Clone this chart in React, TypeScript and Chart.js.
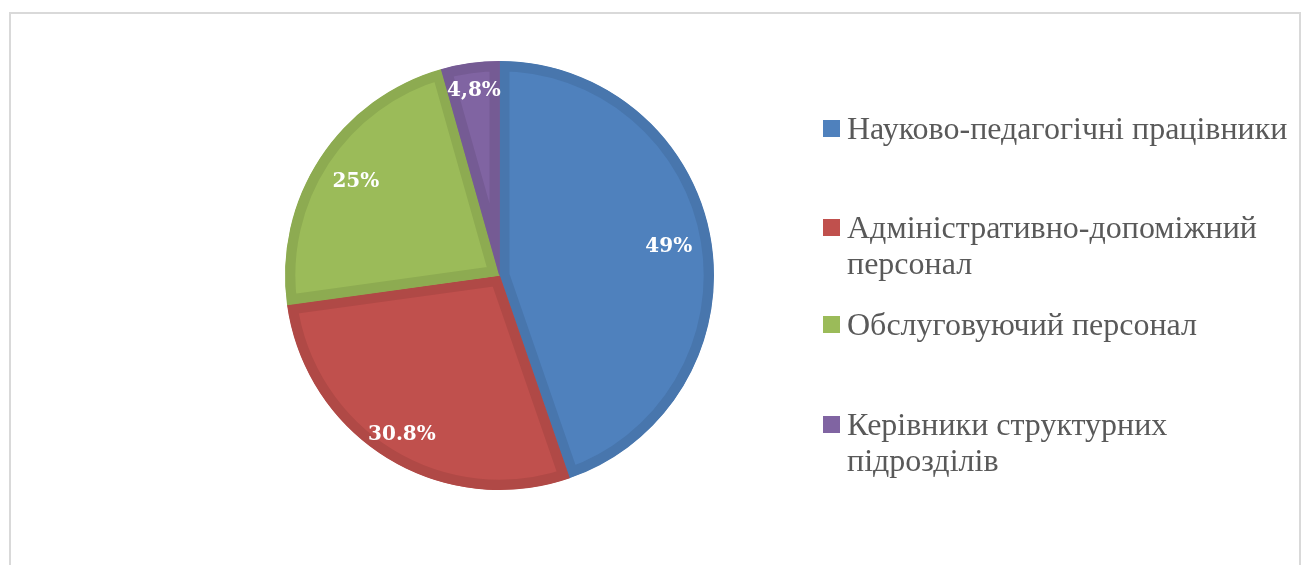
import React, { useEffect, useRef } from "react";
import { Chart, ArcElement, PieController } from "chart.js";

Chart.register(ArcElement, PieController);

const categories = [
  "Науково-педагогічні працівники",
  "Адміністративно-допоміжний персонал",
  "Обслуговуючий персонал",
  "Керівники структурних підрозділів",
];
const values = [49, 30.8, 25, 4.8];
const valueLabels = ["49%", "30.8%", "25%", "4,8%"];
const fillColors = ["#4f81bd", "#c0504d", "#9bbb59", "#8064a2"];
const edgeColors = ["#4876ad", "#b04946", "#8dab51", "#755b94"];

const labelPlugin = {
  id: "sliceLabels",
  afterDatasetsDraw(chart: any, _args: any, opts: any) {
    const ctx = chart.ctx;
    const meta = chart.getDatasetMeta(0);
    ctx.save();
    ctx.font = opts.font;
    ctx.fillStyle = "#ffffff";
    ctx.textAlign = "center";
    ctx.textBaseline = "middle";
    meta.data.forEach((arc: any, i: number) => {
      const p = arc.getProps(["x", "y", "startAngle", "endAngle", "outerRadius"], true);
      const mid = (p.startAngle + p.endAngle) / 2;
      const r = p.outerRadius * opts.factors[i];
      ctx.fillText(valueLabels[i], p.x + Math.cos(mid) * r, p.y + Math.sin(mid) * r);
    });
    ctx.restore();
  },
};

const legendPlugin = {
  id: "sideLegend",
  afterDraw(chart: any, _args: any, opts: any) {
    const ctx = chart.ctx;
    ctx.save();
    ctx.font = opts.font;
    ctx.textBaseline = "alphabetic";
    ctx.textAlign = "left";
    categories.forEach((cat, i) => {
      const words = cat.split(" ");
      const lines: string[] = [];
      let cur = "";
      words.forEach((w) => {
        const t = cur ? cur + " " + w : w;
        if (cur && ctx.measureText(t).width > opts.maxWidth) {
          lines.push(cur);
          cur = w;
        } else cur = t;
      });
      if (cur) lines.push(cur);
      const base = opts.baselines[i];
      ctx.fillStyle = fillColors[i];
      ctx.fillRect(opts.boxX, base - opts.boxRise, opts.boxSize, opts.boxSize);
      ctx.fillStyle = "#595959";
      lines.forEach((ln, j) => {
        ctx.fillText(ln, opts.textX, base + j * opts.lineHeight);
      });
    });
    ctx.restore();
  },
};

export default function App() {
  const ref = useRef<HTMLCanvasElement | null>(null);
  useEffect(() => {
    if (!ref.current) return;
    const chart = new Chart(ref.current, {
      type: "pie",
      data: {
        labels: categories,
        datasets: [
          {
            data: values,
            backgroundColor: fillColors,
            borderColor: edgeColors,
            borderWidth: 10,
            borderAlign: "inner",
          } as any,
        ],
      },
      options: {
        responsive: false,
        animation: false,
        radius: 214.5,
        layout: { padding: { left: 50, right: 355, top: 20, bottom: 34 } },
        plugins: {
          legend: { display: false },
          tooltip: { enabled: false },
          sliceLabels: {
            font: 'bold 20px "DejaVu Serif"',
            factors: [0.8, 0.87, 0.8, 0.87],
          },
          sideLegend: {
            font: '32px "Liberation Serif"',
            maxWidth: 450,
            baselines: [139, 238, 335, 435],
            lineHeight: 36,
            boxX: 823,
            boxSize: 17,
            boxRise: 19,
            textX: 847,
          },
        } as any,
      },
      plugins: [labelPlugin, legendPlugin],
    });
    return () => chart.destroy();
  }, []);
  return (
    <>
      <div
        style={{
          position: "absolute",
          left: 9,
          top: 12,
          width: 1292,
          height: 553,
          boxSizing: "border-box",
          border: "2px solid #d9d9d9",
          borderBottom: "none",
        }}
      />
      <canvas
        ref={ref}
        width={1304}
        height={565}
        style={{ position: "absolute", left: 0, top: 0, width: 1304, height: 565 }}
      />
    </>
  );
}
